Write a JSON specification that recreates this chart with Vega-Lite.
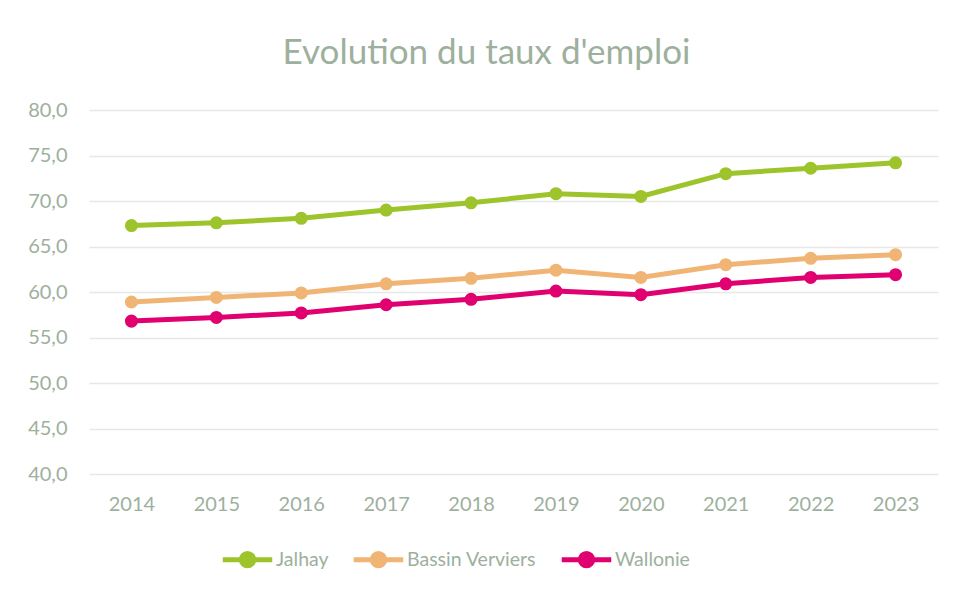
{
  "$schema": "https://vega.github.io/schema/vega-lite/v6.json",
  "width": 849,
  "height": 364,
  "autosize": "none",
  "padding": {"left": 89, "top": 110, "right": 17, "bottom": 116},
  "background": "white",
  "config": {"view": {"stroke": null}},
  "title": {
    "text": "Evolution du taux d'emploi",
    "font": "Lato",
    "fontSize": 35,
    "fontWeight": "normal",
    "color": "#9DB09D",
    "anchor": "middle",
    "dx": -27,
    "offset": 29
  },
  "data": {
    "values": [
      {"year": "2014", "series": "Jalhay", "value": 67.3},
      {"year": "2015", "series": "Jalhay", "value": 67.6},
      {"year": "2016", "series": "Jalhay", "value": 68.1},
      {"year": "2017", "series": "Jalhay", "value": 69.0},
      {"year": "2018", "series": "Jalhay", "value": 69.8},
      {"year": "2019", "series": "Jalhay", "value": 70.8},
      {"year": "2020", "series": "Jalhay", "value": 70.5},
      {"year": "2021", "series": "Jalhay", "value": 73.0},
      {"year": "2022", "series": "Jalhay", "value": 73.6},
      {"year": "2023", "series": "Jalhay", "value": 74.2},
      {"year": "2014", "series": "Bassin Verviers", "value": 58.9},
      {"year": "2015", "series": "Bassin Verviers", "value": 59.4},
      {"year": "2016", "series": "Bassin Verviers", "value": 59.9},
      {"year": "2017", "series": "Bassin Verviers", "value": 60.9},
      {"year": "2018", "series": "Bassin Verviers", "value": 61.5},
      {"year": "2019", "series": "Bassin Verviers", "value": 62.4},
      {"year": "2020", "series": "Bassin Verviers", "value": 61.6},
      {"year": "2021", "series": "Bassin Verviers", "value": 63.0},
      {"year": "2022", "series": "Bassin Verviers", "value": 63.7},
      {"year": "2023", "series": "Bassin Verviers", "value": 64.1},
      {"year": "2014", "series": "Wallonie", "value": 56.8},
      {"year": "2015", "series": "Wallonie", "value": 57.2},
      {"year": "2016", "series": "Wallonie", "value": 57.7},
      {"year": "2017", "series": "Wallonie", "value": 58.6},
      {"year": "2018", "series": "Wallonie", "value": 59.2},
      {"year": "2019", "series": "Wallonie", "value": 60.1},
      {"year": "2020", "series": "Wallonie", "value": 59.7},
      {"year": "2021", "series": "Wallonie", "value": 60.9},
      {"year": "2022", "series": "Wallonie", "value": 61.6},
      {"year": "2023", "series": "Wallonie", "value": 61.9}
    ]
  },
  "encoding": {
    "x": {
      "field": "year",
      "type": "ordinal",
      "scale": {"type": "point", "padding": 0.5},
      "axis": {
        "title": null,
        "labelAngle": 0,
        "domain": false,
        "ticks": false,
        "grid": false,
        "labelFont": "Lato",
        "labelFontSize": 20,
        "labelColor": "#9DB09D",
        "labelPadding": 20
      }
    },
    "y": {
      "field": "value",
      "type": "quantitative",
      "scale": {"domain": [40, 80], "nice": false, "zero": false},
      "axis": {
        "title": null,
        "values": [40, 45, 50, 55, 60, 65, 70, 75, 80],
        "labelExpr": "replace(format(datum.value, '.1f'), '.', ',')",
        "domain": false,
        "ticks": false,
        "gridColor": "#E6E8E6",
        "gridWidth": 1.5,
        "labelFont": "Lato",
        "labelFontSize": 20,
        "labelColor": "#9DB09D",
        "labelPadding": 22
      }
    },
    "color": {
      "field": "series",
      "type": "nominal",
      "scale": {
        "domain": ["Jalhay", "Bassin Verviers", "Wallonie"],
        "range": ["#9DC42A", "#F0B574", "#E0006F"]
      },
      "legend": {
        "title": null,
        "orient": "none",
        "legendX": 131,
        "legendY": 422,
        "direction": "horizontal",
        "symbolType": "M-1,0H1M-0.25,0a0.25,0.25 0 1,0 0.5,0a0.25,0.25 0 1,0 -0.5,0",
        "symbolSize": 2450,
        "symbolStrokeWidth": 5,
        "labelFont": "Lato",
        "labelFontSize": 19.5,
        "labelColor": "#9DB09D",
        "labelOffset": 1,
        "columnPadding": 14,
        "encode": {
          "symbols": {
            "update": {
              "fill": {"scale": "color", "field": "value"},
              "stroke": {"scale": "color", "field": "value"},
              "opacity": {"value": 1}
            }
          }
        }
      }
    }
  },
  "layer": [
    {
      "mark": {"type": "line", "strokeWidth": 5}
    },
    {
      "mark": {"type": "point", "filled": true, "size": 170, "opacity": 1}
    }
  ]
}
